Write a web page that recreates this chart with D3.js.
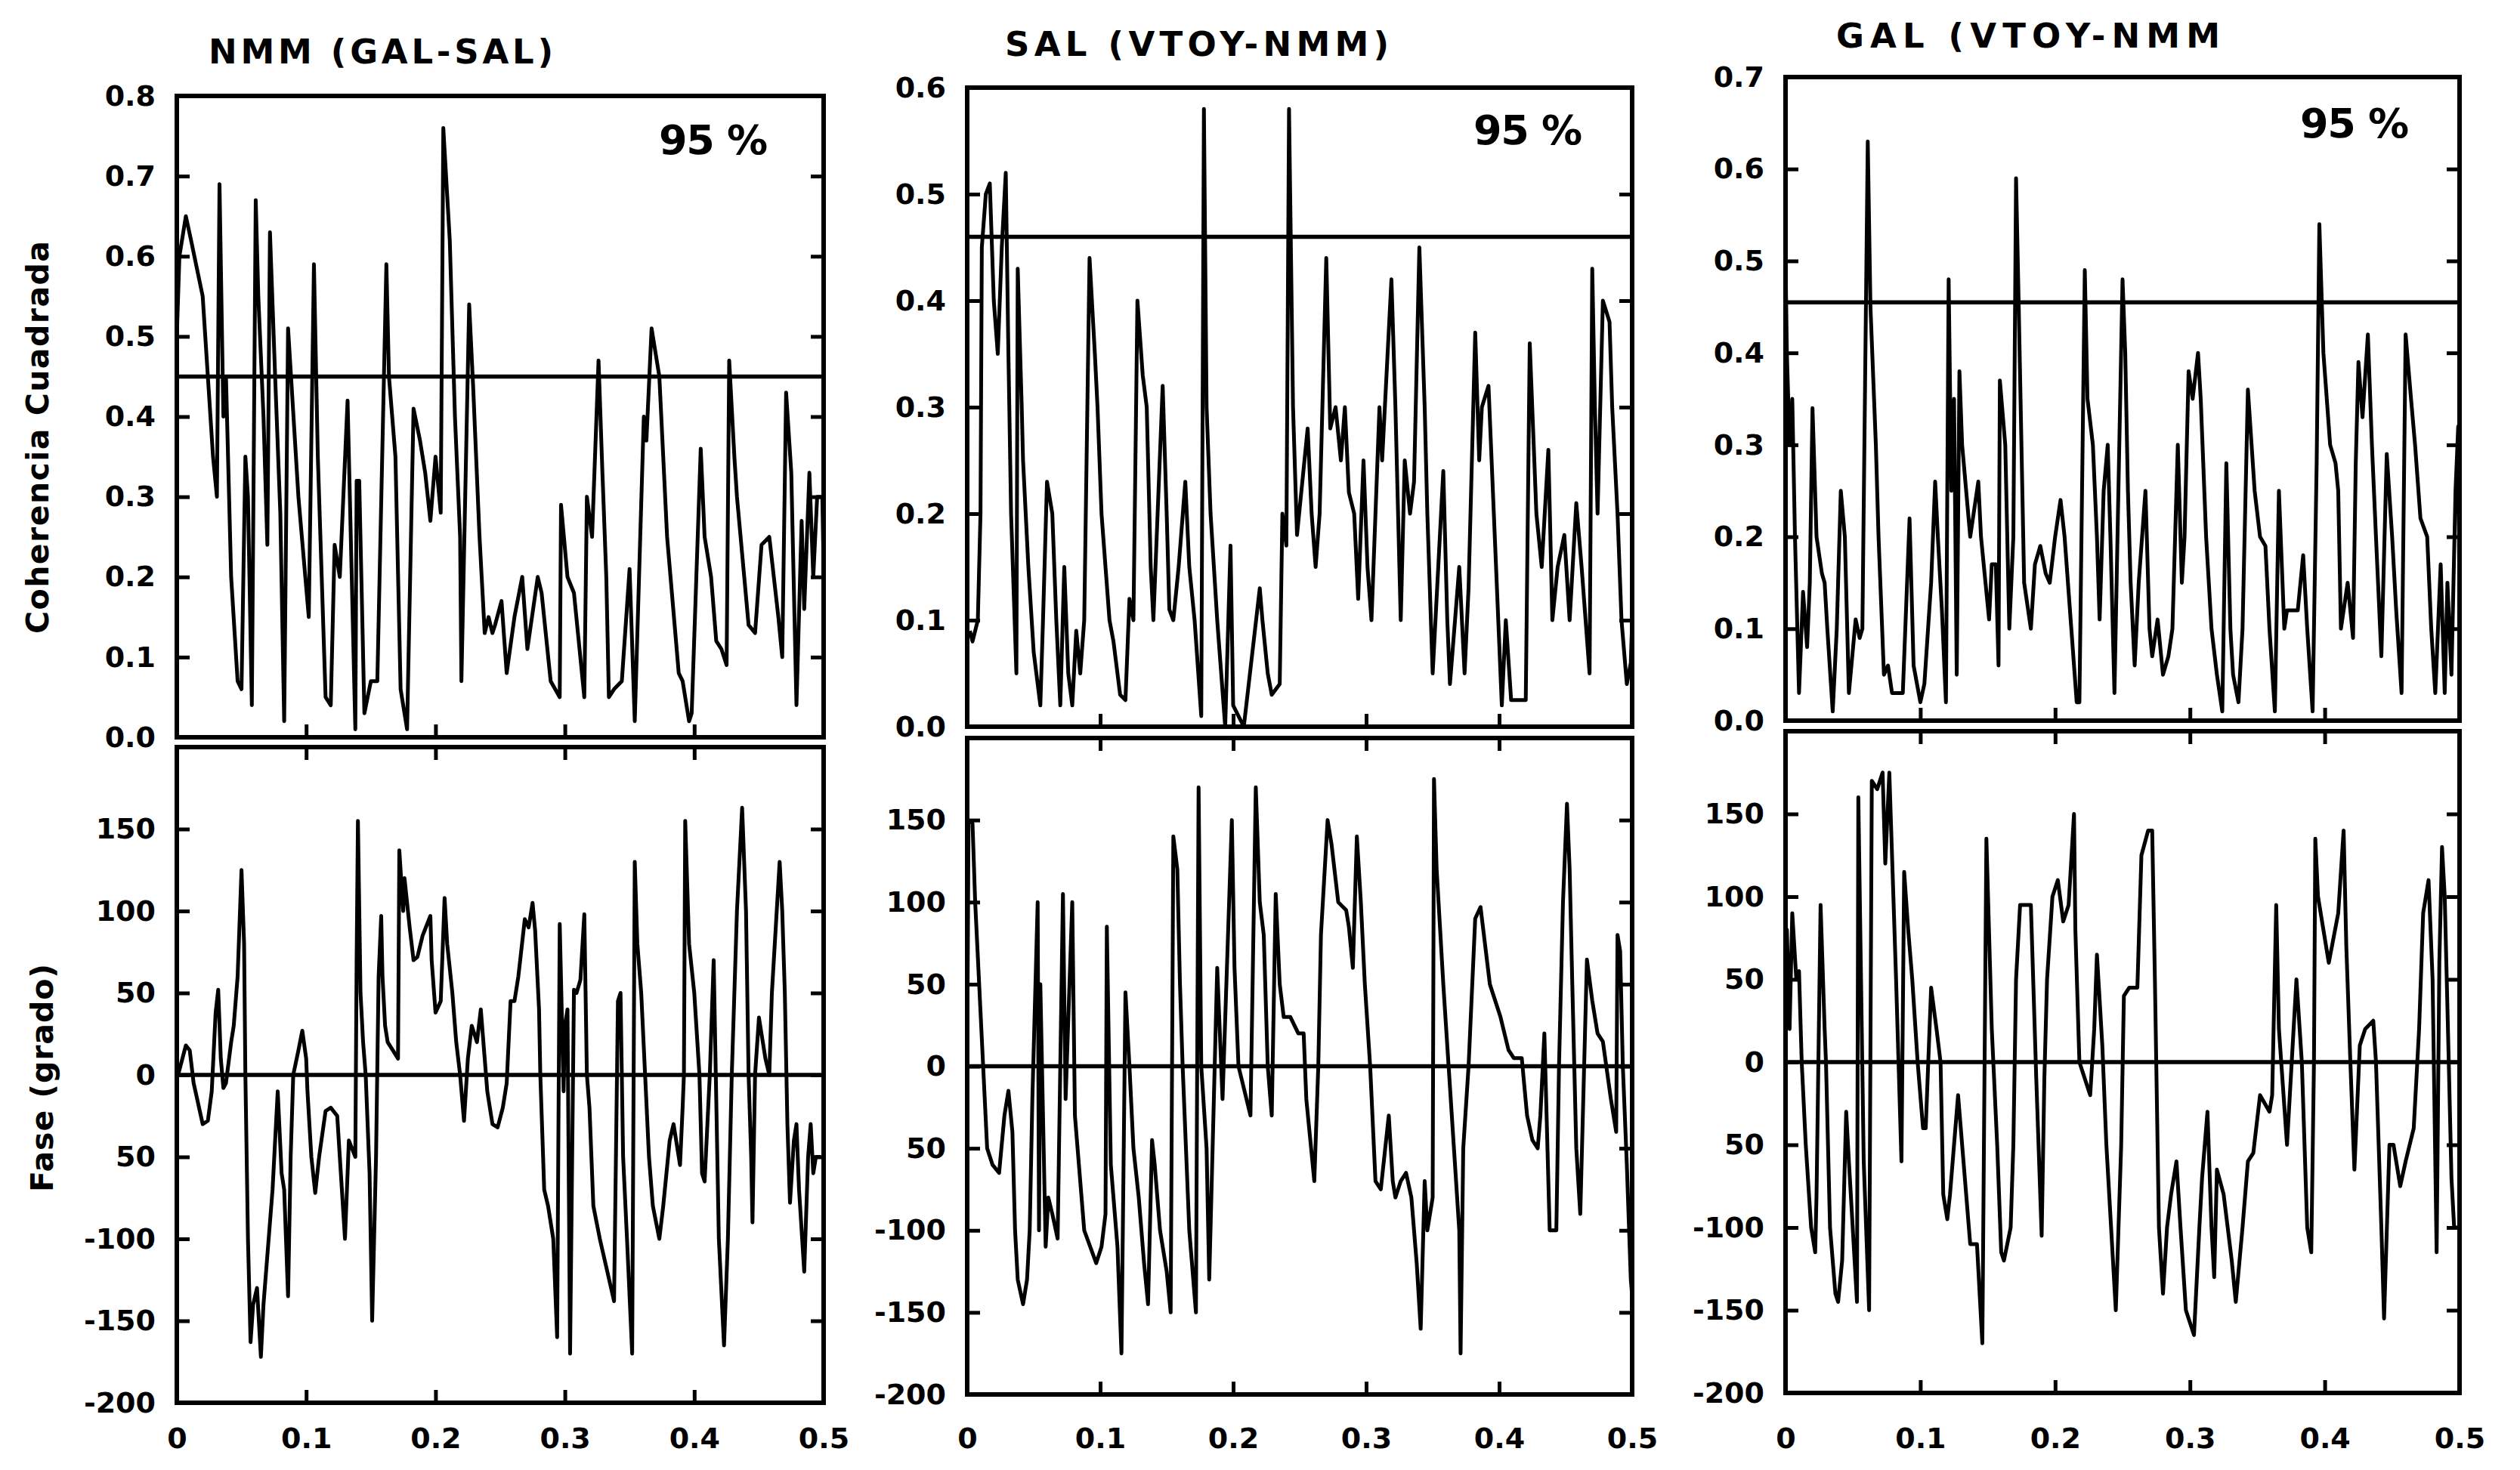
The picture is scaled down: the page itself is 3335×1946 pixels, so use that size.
<!DOCTYPE html>
<html>
<head>
<meta charset="utf-8">
<script src="https://cdn.jsdelivr.net/npm/d3@7"></script>
<style>
  html, body { margin: 0; padding: 0; background: #fff; }
  text { font-family: "DejaVu Sans", sans-serif; font-weight: bold; fill: #000; }
</style>
</head>
<body>
<script>
// titles over each column
const titles = ["NMM (GAL-SAL)", "SAL (VTOY-NMM)", "GAL (VTOY-NMM"];
const confLabel = "95 %";
const thresholds = [0.45, 0.46, 0.455];

// frequency axis
const freqTicks = [0, 0.1, 0.2, 0.3, 0.4, 0.5];
const freqTickLabels = ["0", "0.1", "0.2", "0.3", "0.4", "0.5"];

// coherence axes (one per column)
const cohTicks = [
  [0, 0.1, 0.2, 0.3, 0.4, 0.5, 0.6, 0.7, 0.8],
  [0, 0.1, 0.2, 0.3, 0.4, 0.5, 0.6],
  [0, 0.1, 0.2, 0.3, 0.4, 0.5, 0.6, 0.7]
];
const cohTickLabels = [
  ["0.0", "0.1", "0.2", "0.3", "0.4", "0.5", "0.6", "0.7", "0.8"],
  ["0.0", "0.1", "0.2", "0.3", "0.4", "0.5", "0.6"],
  ["0.0", "0.1", "0.2", "0.3", "0.4", "0.5", "0.6", "0.7"]
];
const cohMax = [0.8, 0.6, 0.7];

// phase axis (same on all columns)
const phaseTicks = [-200, -150, -100, -50, 0, 50, 100, 150];
const phaseTickLabels = ["-200", "-150", "-100", "50", "0", "50", "100", "150"];

const yTitleTop = "Coherencia  Cuadrada";
const yTitleBottom = "Fase (grado)";

// [frequency, squared coherence]
const nmmCoh = [[0,0.50],[0.002,0.60],[0.007,0.65],[0.011,0.62],[0.020,0.55],[0.028,0.35],[0.031,0.30],[0.033,0.69],[0.036,0.40],[0.038,0.45],[0.042,0.20],[0.047,0.07],[0.050,0.06],[0.053,0.35],[0.055,0.30],[0.058,0.04],[0.061,0.67],[0.063,0.55],[0.067,0.40],[0.070,0.24],[0.072,0.63],[0.076,0.45],[0.080,0.28],[0.083,0.02],[0.086,0.51],[0.094,0.30],[0.102,0.15],[0.106,0.59],[0.109,0.35],[0.115,0.05],[0.119,0.04],[0.122,0.24],[0.126,0.20],[0.132,0.42],[0.138,0.01],[0.139,0.32],[0.141,0.32],[0.145,0.03],[0.150,0.07],[0.155,0.07],[0.162,0.59],[0.164,0.45],[0.169,0.35],[0.173,0.06],[0.178,0.01],[0.183,0.41],[0.188,0.37],[0.192,0.33],[0.196,0.27],[0.200,0.35],[0.204,0.28],[0.206,0.76],[0.211,0.62],[0.215,0.40],[0.219,0.25],[0.220,0.07],[0.226,0.54],[0.229,0.44],[0.234,0.25],[0.238,0.13],[0.241,0.15],[0.244,0.13],[0.246,0.14],[0.251,0.17],[0.255,0.08],[0.261,0.15],[0.267,0.20],[0.271,0.11],[0.279,0.20],[0.282,0.18],[0.289,0.07],[0.296,0.05],[0.297,0.29],[0.302,0.20],[0.307,0.18],[0.315,0.05],[0.317,0.30],[0.321,0.25],[0.326,0.47],[0.329,0.33],[0.332,0.20],[0.334,0.05],[0.338,0.06],[0.344,0.07],[0.350,0.21],[0.354,0.02],[0.361,0.40],[0.363,0.37],[0.367,0.51],[0.371,0.47],[0.373,0.45],[0.379,0.25],[0.388,0.08],[0.391,0.07],[0.396,0.02],[0.398,0.03],[0.405,0.36],[0.408,0.25],[0.413,0.20],[0.417,0.12],[0.421,0.11],[0.425,0.09],[0.427,0.47],[0.431,0.35],[0.433,0.30],[0.442,0.14],[0.447,0.13],[0.452,0.24],[0.458,0.25],[0.465,0.15],[0.468,0.10],[0.471,0.43],[0.475,0.33],[0.479,0.04],[0.483,0.27],[0.485,0.16],[0.489,0.33],[0.492,0.20],[0.495,0.30],[0.499,0.30],[0.500,0.21]];

// [frequency, phase in degrees]
const nmmPhase = [[0.001,0],[0.007,18],[0.010,15],[0.013,-5],[0.020,-30],[0.024,-28],[0.027,-10],[0.030,38],[0.032,52],[0.034,10],[0.036,-8],[0.038,-5],[0.042,20],[0.044,30],[0.047,60],[0.050,125],[0.052,80],[0.053,0],[0.055,-100],[0.057,-163],[0.059,-140],[0.062,-130],[0.065,-172],[0.067,-140],[0.069,-120],[0.074,-70],[0.078,-10],[0.081,-60],[0.083,-70],[0.086,-135],[0.088,-50],[0.090,0],[0.094,15],[0.097,27],[0.100,10],[0.101,-10],[0.104,-50],[0.107,-72],[0.110,-50],[0.115,-22],[0.119,-20],[0.124,-25],[0.126,-50],[0.130,-100],[0.133,-40],[0.138,-50],[0.139,70],[0.140,155],[0.142,50],[0.144,20],[0.146,0],[0.149,-60],[0.151,-150],[0.154,-50],[0.156,60],[0.158,97],[0.159,60],[0.161,30],[0.163,20],[0.167,15],[0.171,10],[0.172,137],[0.175,100],[0.176,120],[0.180,90],[0.183,70],[0.186,72],[0.190,85],[0.196,97],[0.197,70],[0.200,38],[0.204,45],[0.207,108],[0.209,80],[0.213,50],[0.216,20],[0.219,0],[0.222,-28],[0.225,10],[0.228,30],[0.232,20],[0.235,40],[0.238,10],[0.240,-10],[0.244,-30],[0.248,-32],[0.252,-20],[0.255,-5],[0.258,45],[0.261,45],[0.264,60],[0.269,95],[0.272,90],[0.275,105],[0.277,88],[0.280,40],[0.281,0],[0.284,-70],[0.287,-80],[0.291,-100],[0.294,-160],[0.296,92],[0.299,-10],[0.300,30],[0.302,40],[0.304,-170],[0.307,52],[0.309,50],[0.312,58],[0.315,98],[0.317,0],[0.319,-20],[0.322,-80],[0.327,-100],[0.338,-138],[0.341,45],[0.343,50],[0.345,-50],[0.348,-100],[0.352,-170],[0.354,130],[0.356,80],[0.359,50],[0.362,0],[0.365,-50],[0.368,-80],[0.373,-100],[0.376,-80],[0.381,-40],[0.384,-30],[0.389,-55],[0.391,-20],[0.392,0],[0.393,155],[0.396,80],[0.400,50],[0.404,0],[0.406,-60],[0.408,-65],[0.412,0],[0.415,70],[0.419,-100],[0.423,-165],[0.426,-100],[0.429,0],[0.433,100],[0.437,163],[0.440,100],[0.442,0],[0.444,-50],[0.445,-90],[0.447,0],[0.450,35],[0.453,20],[0.455,10],[0.458,0],[0.460,50],[0.463,90],[0.466,130],[0.468,100],[0.470,50],[0.472,-30],[0.474,-78],[0.477,-40],[0.479,-30],[0.481,-70],[0.485,-120],[0.488,-50],[0.490,-30],[0.492,-60],[0.494,-50],[0.498,-50]];

const salCoh = [[0.002,0.09],[0.004,0.08],[0.008,0.10],[0.010,0.20],[0.011,0.45],[0.014,0.50],[0.017,0.51],[0.020,0.40],[0.023,0.35],[0.026,0.45],[0.029,0.52],[0.031,0.35],[0.033,0.20],[0.037,0.05],[0.038,0.43],[0.041,0.30],[0.042,0.25],[0.046,0.15],[0.050,0.07],[0.055,0.02],[0.057,0.10],[0.060,0.23],[0.064,0.20],[0.067,0.10],[0.070,0.02],[0.073,0.15],[0.076,0.05],[0.079,0.02],[0.082,0.09],[0.085,0.05],[0.088,0.10],[0.092,0.44],[0.096,0.35],[0.098,0.30],[0.101,0.20],[0.107,0.10],[0.110,0.08],[0.115,0.03],[0.119,0.025],[0.122,0.12],[0.125,0.10],[0.128,0.40],[0.132,0.33],[0.135,0.30],[0.138,0.15],[0.140,0.10],[0.147,0.32],[0.150,0.20],[0.152,0.11],[0.155,0.10],[0.159,0.15],[0.164,0.23],[0.167,0.15],[0.171,0.10],[0.176,0.01],[0.178,0.58],[0.180,0.30],[0.183,0.20],[0.188,0.10],[0.194,0.00],[0.198,0.17],[0.200,0.02],[0.208,0.00],[0.220,0.13],[0.222,0.10],[0.226,0.05],[0.229,0.03],[0.235,0.04],[0.237,0.20],[0.240,0.17],[0.242,0.58],[0.245,0.30],[0.248,0.18],[0.256,0.28],[0.259,0.20],[0.262,0.15],[0.265,0.20],[0.270,0.44],[0.273,0.28],[0.277,0.30],[0.281,0.25],[0.284,0.30],[0.287,0.22],[0.291,0.20],[0.294,0.12],[0.298,0.25],[0.301,0.15],[0.304,0.10],[0.310,0.30],[0.312,0.25],[0.319,0.42],[0.322,0.30],[0.326,0.10],[0.329,0.25],[0.333,0.20],[0.336,0.23],[0.340,0.45],[0.344,0.30],[0.346,0.20],[0.350,0.05],[0.358,0.24],[0.361,0.10],[0.363,0.04],[0.370,0.15],[0.374,0.05],[0.377,0.13],[0.382,0.37],[0.385,0.25],[0.387,0.30],[0.392,0.32],[0.396,0.20],[0.400,0.08],[0.402,0.02],[0.405,0.10],[0.409,0.025],[0.420,0.025],[0.423,0.36],[0.428,0.20],[0.432,0.15],[0.437,0.26],[0.440,0.10],[0.444,0.15],[0.449,0.18],[0.453,0.10],[0.458,0.21],[0.462,0.15],[0.468,0.05],[0.470,0.43],[0.472,0.30],[0.474,0.20],[0.478,0.40],[0.483,0.38],[0.485,0.30],[0.489,0.20],[0.492,0.10],[0.496,0.04],[0.499,0.06],[0.500,0.10]];

const salPhase = [[0,0],[0.001,150],[0.004,148],[0.006,100],[0.009,50],[0.012,0],[0.015,-50],[0.019,-60],[0.024,-65],[0.028,-30],[0.031,-15],[0.034,-40],[0.036,-100],[0.038,-130],[0.042,-145],[0.045,-130],[0.047,-100],[0.049,-20],[0.053,100],[0.054,-100],[0.055,50],[0.059,-110],[0.061,-80],[0.064,-90],[0.068,-105],[0.072,105],[0.074,-20],[0.079,100],[0.081,-30],[0.084,-60],[0.088,-100],[0.097,-120],[0.101,-110],[0.104,-90],[0.105,85],[0.108,-60],[0.113,-110],[0.116,-175],[0.119,45],[0.122,0],[0.125,-50],[0.129,-80],[0.133,-120],[0.136,-145],[0.139,-45],[0.141,-60],[0.145,-100],[0.150,-125],[0.153,-150],[0.155,140],[0.158,120],[0.160,50],[0.162,0],[0.167,-100],[0.172,-150],[0.174,170],[0.176,0],[0.180,-50],[0.182,-130],[0.188,60],[0.190,20],[0.192,-20],[0.199,150],[0.201,60],[0.204,0],[0.213,-30],[0.217,170],[0.220,100],[0.223,80],[0.226,0],[0.229,-30],[0.232,105],[0.235,50],[0.238,30],[0.243,30],[0.249,20],[0.253,20],[0.255,-20],[0.261,-70],[0.264,0],[0.266,80],[0.271,150],[0.274,135],[0.279,100],[0.285,95],[0.287,85],[0.290,60],[0.293,140],[0.296,100],[0.299,50],[0.303,0],[0.307,-70],[0.311,-75],[0.317,-30],[0.320,-70],[0.322,-80],[0.326,-70],[0.330,-65],[0.334,-80],[0.338,-120],[0.341,-160],[0.344,-70],[0.346,-100],[0.350,-80],[0.351,175],[0.353,120],[0.358,50],[0.362,0],[0.366,-50],[0.370,-100],[0.371,-175],[0.373,-50],[0.377,0],[0.382,90],[0.386,97],[0.393,50],[0.401,30],[0.407,10],[0.411,5],[0.417,5],[0.421,-30],[0.425,-45],[0.429,-50],[0.431,-30],[0.434,20],[0.438,-100],[0.443,-100],[0.445,0],[0.448,100],[0.451,160],[0.453,120],[0.455,50],[0.458,-50],[0.461,-90],[0.466,65],[0.470,40],[0.474,20],[0.478,15],[0.484,-20],[0.488,-40],[0.489,80],[0.491,70],[0.493,0],[0.496,-60],[0.499,-130],[0.500,-140]];

const galCoh = [[0,0.50],[0.001,0.40],[0.003,0.30],[0.005,0.35],[0.007,0.20],[0.010,0.03],[0.013,0.14],[0.016,0.08],[0.018,0.15],[0.020,0.34],[0.023,0.20],[0.027,0.16],[0.029,0.15],[0.031,0.10],[0.035,0.01],[0.038,0.10],[0.041,0.25],[0.044,0.20],[0.047,0.03],[0.052,0.11],[0.055,0.09],[0.057,0.10],[0.061,0.63],[0.063,0.45],[0.067,0.30],[0.069,0.20],[0.073,0.05],[0.076,0.06],[0.079,0.03],[0.087,0.03],[0.092,0.22],[0.095,0.06],[0.100,0.02],[0.103,0.04],[0.108,0.15],[0.111,0.26],[0.113,0.20],[0.116,0.12],[0.119,0.02],[0.121,0.48],[0.123,0.25],[0.125,0.35],[0.127,0.05],[0.129,0.38],[0.131,0.30],[0.137,0.20],[0.143,0.26],[0.145,0.20],[0.151,0.11],[0.153,0.17],[0.156,0.17],[0.158,0.06],[0.159,0.37],[0.163,0.30],[0.166,0.10],[0.169,0.20],[0.171,0.59],[0.173,0.45],[0.175,0.30],[0.177,0.15],[0.182,0.10],[0.185,0.17],[0.189,0.19],[0.193,0.16],[0.196,0.15],[0.200,0.20],[0.204,0.24],[0.207,0.20],[0.212,0.10],[0.216,0.02],[0.218,0.02],[0.222,0.49],[0.224,0.35],[0.228,0.30],[0.231,0.20],[0.233,0.11],[0.236,0.25],[0.239,0.30],[0.241,0.20],[0.244,0.03],[0.250,0.48],[0.252,0.40],[0.254,0.25],[0.256,0.15],[0.259,0.06],[0.262,0.15],[0.267,0.25],[0.270,0.10],[0.272,0.07],[0.276,0.11],[0.280,0.05],[0.284,0.07],[0.287,0.10],[0.291,0.30],[0.294,0.15],[0.296,0.20],[0.299,0.38],[0.302,0.35],[0.306,0.40],[0.308,0.35],[0.312,0.20],[0.316,0.10],[0.320,0.05],[0.324,0.01],[0.327,0.28],[0.330,0.10],[0.332,0.05],[0.336,0.02],[0.339,0.10],[0.343,0.36],[0.348,0.25],[0.352,0.20],[0.356,0.19],[0.359,0.10],[0.363,0.01],[0.366,0.25],[0.370,0.10],[0.372,0.12],[0.380,0.12],[0.384,0.18],[0.387,0.10],[0.391,0.01],[0.394,0.28],[0.396,0.54],[0.399,0.40],[0.404,0.30],[0.408,0.28],[0.410,0.25],[0.412,0.10],[0.417,0.15],[0.421,0.09],[0.423,0.28],[0.425,0.39],[0.428,0.33],[0.432,0.42],[0.435,0.30],[0.438,0.20],[0.442,0.07],[0.446,0.29],[0.450,0.20],[0.453,0.12],[0.457,0.03],[0.460,0.42],[0.464,0.35],[0.467,0.30],[0.471,0.22],[0.476,0.20],[0.479,0.10],[0.482,0.03],[0.486,0.17],[0.489,0.03],[0.491,0.15],[0.494,0.05],[0.497,0.25],[0.499,0.32],[0.500,0.11]];

const galPhase = [[0,0],[0.001,80],[0.003,20],[0.005,90],[0.008,50],[0.010,55],[0.012,0],[0.015,-50],[0.019,-100],[0.022,-115],[0.023,-80],[0.026,95],[0.029,20],[0.030,0],[0.033,-100],[0.037,-140],[0.039,-145],[0.042,-120],[0.045,-30],[0.047,-60],[0.053,-145],[0.054,160],[0.058,-60],[0.062,-150],[0.064,170],[0.068,165],[0.072,175],[0.074,120],[0.077,175],[0.080,100],[0.082,50],[0.086,-60],[0.088,115],[0.091,80],[0.094,50],[0.098,0],[0.102,-40],[0.104,-40],[0.108,45],[0.112,20],[0.115,0],[0.117,-80],[0.120,-95],[0.122,-80],[0.128,-20],[0.132,-60],[0.137,-110],[0.142,-110],[0.146,-170],[0.149,135],[0.153,20],[0.157,-50],[0.160,-115],[0.162,-120],[0.167,-100],[0.169,-50],[0.171,50],[0.174,95],[0.182,95],[0.186,-10],[0.190,-105],[0.192,-10],[0.194,50],[0.198,100],[0.202,110],[0.206,85],[0.210,95],[0.214,150],[0.215,80],[0.218,0],[0.226,-20],[0.229,20],[0.231,65],[0.235,10],[0.238,-50],[0.245,-150],[0.249,-50],[0.251,40],[0.255,45],[0.261,45],[0.264,125],[0.269,140],[0.272,140],[0.274,50],[0.277,-100],[0.280,-140],[0.283,-100],[0.286,-80],[0.290,-60],[0.293,-100],[0.297,-150],[0.303,-165],[0.307,-100],[0.309,-70],[0.313,-30],[0.316,-100],[0.318,-130],[0.320,-65],[0.325,-80],[0.331,-120],[0.334,-145],[0.339,-100],[0.343,-60],[0.347,-55],[0.352,-20],[0.359,-30],[0.361,-20],[0.364,95],[0.366,20],[0.372,-50],[0.379,50],[0.383,0],[0.387,-100],[0.390,-115],[0.392,0],[0.393,135],[0.395,100],[0.403,60],[0.410,90],[0.414,140],[0.416,70],[0.419,0],[0.422,-65],[0.426,10],[0.430,20],[0.436,25],[0.438,0],[0.442,-100],[0.444,-155],[0.448,-50],[0.451,-50],[0.456,-75],[0.460,-60],[0.466,-40],[0.470,20],[0.473,90],[0.477,110],[0.480,50],[0.483,-115],[0.485,60],[0.487,130],[0.489,100],[0.492,0],[0.494,-70],[0.496,-100],[0.499,-100]];

const cohSeries = [nmmCoh, salCoh, galCoh];
const phaseSeries = [nmmPhase, salPhase, galPhase];

// layout of the three columns (pixels)
const layout = [
  { x0: 234, x1: 1090, cTop: 127, cBot: 976, pTop: 989, pBot: 1857,
    title: [276, 84, 456], conf: [872, 204, 144] },
  { x0: 1280, x1: 2160, cTop: 116, cBot: 962, pTop: 977, pBot: 1846,
    title: [1330, 74, 508], conf: [1950, 191, 144] },
  { x0: 2363, x1: 3255, cTop: 102, cBot: 954, pTop: 968, pBot: 1844,
    title: [2430, 63, 508], conf: [3044, 182, 144] }
];

const width = 3335, height = 1946;
const tickLen = 17;
const labelTop = 1890;
const tickFont = 38;

const svg = d3.select("body").append("svg")
  .attr("width", width)
  .attr("height", height);

function styleAxis(g) {
  g.select(".domain").remove();
  g.selectAll(".tick line").attr("stroke", "#000").attr("stroke-width", 5);
  g.selectAll(".tick text").attr("font-size", tickFont)
    .attr("font-family", "DejaVu Sans").attr("font-weight", "bold");
}

layout.forEach((L, i) => {
  const x = d3.scaleLinear().domain([0, 0.5]).range([L.x0, L.x1]);
  const yC = d3.scaleLinear().domain([0, cohMax[i]]).range([L.cBot, L.cTop]);
  const yP = d3.scaleLinear().domain([-200, 200]).range([L.pBot, L.pTop]);

  // ---- coherence panel ----
  svg.append("g").attr("transform", `translate(${L.x0},0)`)
    .call(d3.axisLeft(yC).tickValues(cohTicks[i]).tickSize(-tickLen).tickPadding(28)
      .tickFormat((d, k) => cohTickLabels[i][k]))
    .call(styleAxis);

  svg.append("g").attr("transform", `translate(${L.x1},0)`)
    .call(d3.axisRight(yC).tickValues(cohTicks[i].slice(1, -1)).tickSize(-tickLen).tickFormat(""))
    .call(styleAxis);

  svg.append("g").attr("transform", `translate(0,${L.cBot})`)
    .call(d3.axisBottom(x).tickValues(freqTicks.slice(1, -1)).tickSize(-tickLen).tickFormat(""))
    .call(styleAxis);

  svg.append("line")
    .attr("x1", L.x0).attr("x2", L.x1)
    .attr("y1", yC(thresholds[i])).attr("y2", yC(thresholds[i]))
    .attr("stroke", "#000").attr("stroke-width", 5.5);

  svg.append("path")
    .datum(cohSeries[i])
    .attr("fill", "none")
    .attr("stroke", "#000")
    .attr("stroke-width", 5)
    .attr("stroke-linejoin", "round")
    .attr("d", d3.line().x(d => x(d[0])).y(d => yC(d[1])));

  svg.append("rect")
    .attr("x", L.x0).attr("y", L.cTop)
    .attr("width", L.x1 - L.x0).attr("height", L.cBot - L.cTop)
    .attr("fill", "none").attr("stroke", "#000").attr("stroke-width", 6);

  // ---- phase panel ----
  svg.append("g").attr("transform", `translate(${L.x0},0)`)
    .call(d3.axisLeft(yP).tickValues(phaseTicks).tickSize(-tickLen).tickPadding(28)
      .tickFormat((d, k) => phaseTickLabels[k]))
    .call(styleAxis);

  svg.append("g").attr("transform", `translate(${L.x1},0)`)
    .call(d3.axisRight(yP).tickValues(phaseTicks.slice(1)).tickSize(-tickLen).tickFormat(""))
    .call(styleAxis);

  svg.append("g").attr("transform", `translate(0,${L.pTop})`)
    .call(d3.axisTop(x).tickValues(freqTicks.slice(1, -1)).tickSize(-tickLen).tickFormat(""))
    .call(styleAxis);

  svg.append("g").attr("transform", `translate(0,${L.pBot})`)
    .call(d3.axisBottom(x).tickValues(freqTicks).tickSize(-tickLen).tickPadding(labelTop - L.pBot)
      .tickFormat((d, k) => freqTickLabels[k]))
    .call(styleAxis);

  svg.append("line")
    .attr("x1", L.x0).attr("x2", L.x1)
    .attr("y1", yP(0)).attr("y2", yP(0))
    .attr("stroke", "#000").attr("stroke-width", 5.5);

  svg.append("path")
    .datum(phaseSeries[i])
    .attr("fill", "none")
    .attr("stroke", "#000")
    .attr("stroke-width", 5)
    .attr("stroke-linejoin", "round")
    .attr("d", d3.line().x(d => x(d[0])).y(d => yP(d[1])));

  svg.append("rect")
    .attr("x", L.x0).attr("y", L.pTop)
    .attr("width", L.x1 - L.x0).attr("height", L.pBot - L.pTop)
    .attr("fill", "none").attr("stroke", "#000").attr("stroke-width", 6);

  // titles and confidence label
  svg.append("text")
    .attr("x", L.title[0]).attr("y", L.title[1])
    .attr("font-size", 45)
    .attr("textLength", L.title[2]).attr("lengthAdjust", "spacing")
    .text(titles[i]);

  svg.append("text")
    .attr("x", L.conf[0]).attr("y", L.conf[1])
    .attr("font-size", 54)
    .attr("textLength", L.conf[2]).attr("lengthAdjust", "spacing")
    .text(confLabel);
});

// y axis titles (left column only)
svg.append("text")
  .attr("transform", "translate(64,579) rotate(-90)")
  .attr("text-anchor", "middle")
  .attr("font-size", 41)
  .attr("textLength", 520).attr("lengthAdjust", "spacing")
  .text(yTitleTop);

svg.append("text")
  .attr("transform", "translate(70,1427) rotate(-90)")
  .attr("text-anchor", "middle")
  .attr("font-size", 41)
  .attr("textLength", 302).attr("lengthAdjust", "spacing")
  .text(yTitleBottom);
</script>
</body>
</html>
